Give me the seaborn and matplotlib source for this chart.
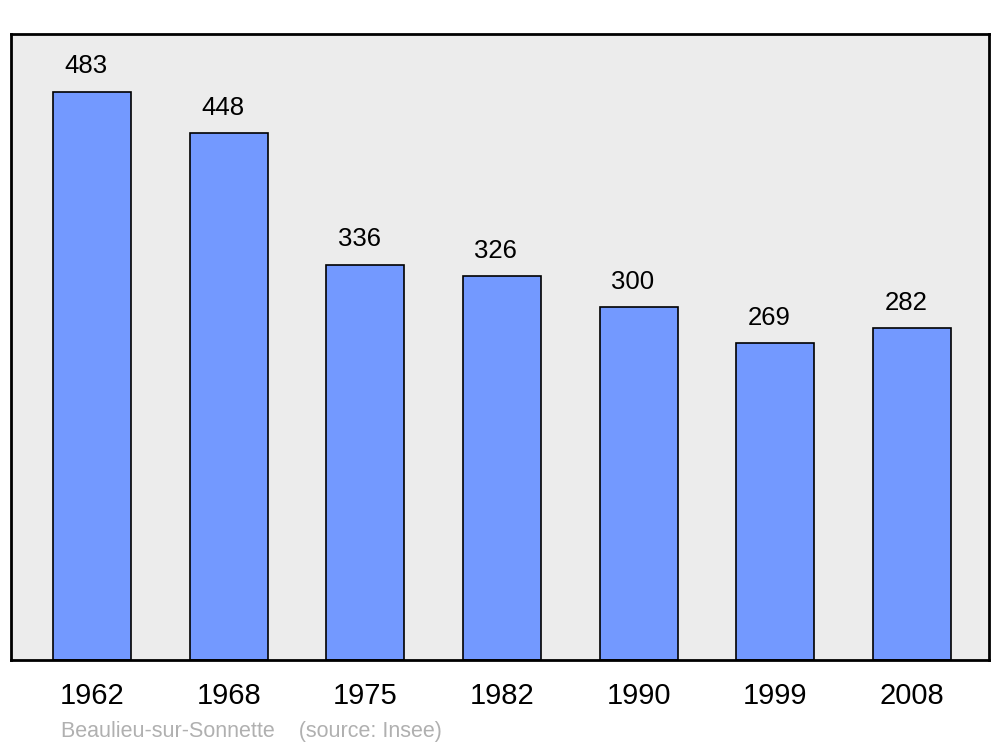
import matplotlib
matplotlib.use("Agg")
import matplotlib.pyplot as plt
import seaborn as sns
import pandas as pd

# ===== data =====
years = ["1962", "1968", "1975", "1982", "1990", "1999", "2008"]
population = [483, 448, 336, 326, 300, 269, 282]
caption = "Beaulieu-sur-Sonnette    (source: Insee)"

df = pd.DataFrame({"year": years, "population": population})

sns.set_style("white")
plt.rcParams["font.family"] = ["Liberation Sans", "DejaVu Sans"]
plt.rcParams["text.color"] = "black"
plt.rcParams["xtick.color"] = "black"

fig = plt.figure(figsize=(10, 7.47), dpi=100)
ax = fig.add_axes([0.011, 1 - 660 / 747, 0.978, 626 / 747])
ax.set_facecolor("#ececec")

sns.barplot(data=df, x="year", y="population", order=years, color="#7399ff",
            saturation=1, width=0.57, edgecolor="black", linewidth=1.2, ax=ax)

ax.set_xlim(-0.593, 6.563)
ax.set_ylim(0, 532)

for i, v in enumerate(population):
    ax.text(i - 0.045, v + 21.5, str(v), ha="center", va="center", fontsize=18.5, color="black")

ax.set_xlabel("")
ax.set_ylabel("")
ax.set_yticks([])
ax.tick_params(axis="x", length=0, labelsize=21, pad=16, labelcolor="black")
for s in ax.spines.values():
    s.set_visible(True)
    s.set_color("black")
    s.set_linewidth(2)

fig.text(0.061, 1 - 731 / 747, caption, fontsize=15.5, color="#b0b0b0",
         ha="left", va="center")

fig.savefig("out.png", dpi=100)
